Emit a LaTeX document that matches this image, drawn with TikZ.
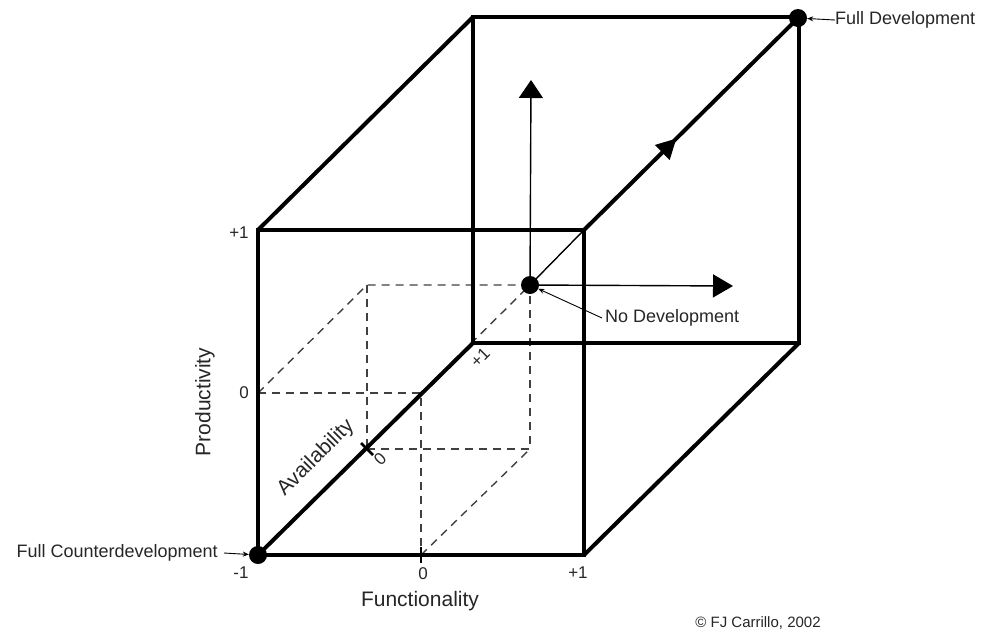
\documentclass[tikz,border=0pt]{standalone}
\usepackage{fontspec}
\setmainfont{Liberation Sans}
\usetikzlibrary{arrows.meta,decorations.markings}
\begin{document}
\begin{tikzpicture}[x=1pt,y=-1pt,
  edge/.style={line width=4pt,line cap=round,line join=miter},
  thinline/.style={line width=1.4pt},
  hidden/.style={line width=1.4pt,dash pattern=on 8pt off 6pt,draw=black!75},
  pointer/.style={line width=0.9pt,-{Stealth[length=6pt,width=5pt]}},
  dot/.style={circle,fill=black,minimum size=18pt,inner sep=0pt},
  lbl/.style={font=\fontsize{18}{20}\selectfont,inner sep=0pt,text=black!85},
  axislbl/.style={font=\fontsize{21}{24}\selectfont,inner sep=0pt,text=black!85},
  num/.style={font=\fontsize{17}{19}\selectfont,inner sep=0pt,text=black!85},
  tick/.style={line width=2.5pt}
]
\useasboundingbox (0,0) rectangle (984,633);
% cube corners
\coordinate (FBL) at (258,555);
\coordinate (FBR) at (584,555);
\coordinate (FTR) at (584,230);
\coordinate (FTL) at (258,230);
\coordinate (BBL) at (473,343);
\coordinate (BBR) at (799,343);
\coordinate (BTR) at (799,17);
\coordinate (BTL) at (473,17);
% sub-cube (dashed) corners
\coordinate (s1) at (258,393);
\coordinate (s2) at (421,393);
\coordinate (s3) at (421,555);
\coordinate (s4) at (367,285);
\coordinate (s5) at (367,449);
\coordinate (s6) at (530,449);
\coordinate (s7) at (530,285);
% dashed sub-cube
\draw[hidden] (s1) -- (s2) -- (s3);
\draw[hidden] (s3) -- (s6);
\draw[hidden] (s1) -- (s4) -- (s7);
\draw[hidden] (s5) -- (s6) -- (s7);
\draw[hidden] (s4) -- (s5);
\draw[hidden] (s2) -- (s7);
% dots
\node[dot] (O) at (530,285) {};
\node[dot] (FD) at (798,18) {};
\node[dot] (FC) at (258,555) {};
% arrow tips
\coordinate (upTip) at (531,80);
\coordinate (rightTip) at (733,286);
% thin axes from centre
\draw[thinline,-{Triangle[length=18pt,width=24pt]}] (O.center) -- (upTip);
\draw[thinline,-{Triangle[length=20pt,width=23pt]}] (O.center) -- (rightTip);
\draw[thinline] (O.center) -- (FTR);
% cube edges
\draw[edge] (FTL) -- (FTR) -- (FBR) -- (FBL) -- cycle;
\draw[edge] (BTL) -- (BTR) -- (BBR) -- (BBL) -- cycle;
\draw[edge] (FTL) -- (BTL);
\draw[edge] (FBR) -- (BBR);
\draw[edge] (FBL) -- (BBL);
\draw[edge,postaction={decorate},decoration={markings,mark=at position 0.43 with {\arrow{Triangle[length=20pt,width=20pt]}}}] (FTR) -- (BTR);
% ticks
\draw[tick] (421,547) -- (421,563);
\draw[tick] (361,443) -- (373,455);
% labels
\node[lbl,anchor=west] (fdl) at (835,20) {Full Development};
\draw[pointer] (fdl.west) -- (FD);
\node[lbl,anchor=east] (fcl) at (218,553) {Full Counterdevelopment};
\draw[pointer] ([xshift=-4pt]fcl.east) ++(10pt,0) -- (FC);
\node[lbl,anchor=west] (ndl) at (605,318) {No Development};
\draw[pointer] ([xshift=-3pt]ndl.west) -- (O);
\node[num] (np1) at (239,233) {+1};
\node[num] (n0l) at (244,393) {0};
\node[num] (nm1) at (241,573) {-1};
\node[num] (n0b) at (423,574) {0};
\node[num] (np1b) at (578,573) {+1};
\node[num,rotate=45] (n0a) at (380,459) {0};
\node[num,rotate=45] (np1a) at (480,358) {+1};
\node[axislbl,rotate=45] (avl) at (316,458) {Availability};
\node[axislbl,rotate=90] (prl) at (205,402) {Productivity};
\node[axislbl] (fnl) at (420,601) {Functionality};
\node[font=\fontsize{15}{17}\selectfont,inner sep=0pt,text=black!85] (cpy) at (758,623) {© FJ Carrillo, 2002};
\end{tikzpicture}
\end{document}
